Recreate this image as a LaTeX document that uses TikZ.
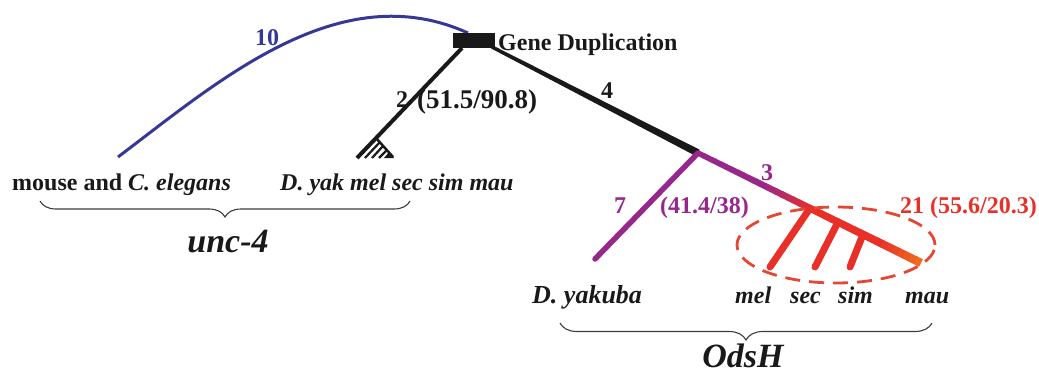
\documentclass[tikz,border=0pt]{standalone}
\usepackage{fontspec}
\setmainfont{Liberation Serif}
\usetikzlibrary{calc,decorations.pathreplacing}
\definecolor{blu}{RGB}{55,55,150}
\definecolor{purp}{RGB}{150,40,140}
\definecolor{redd}{RGB}{232,48,40}
\definecolor{orng}{RGB}{240,115,30}
\definecolor{ellred}{RGB}{228,72,50}
\definecolor{ink}{RGB}{25,25,25}
\begin{document}
\begin{tikzpicture}[x=1pt,y=-1pt,
  lbl/.style={inner sep=0pt, font=\fontsize{24}{28}\selectfont\bfseries, text=ink},
  big/.style={inner sep=0pt, font=\fontsize{34}{40}\selectfont\bfseries\itshape, text=ink},
  brc/.style={decorate, decoration={brace,mirror,amplitude=#1}, draw=ink!85, line width=1.1pt},
  ]
\useasboundingbox (0,0) rectangle (1039,375);
% named points
\coordinate (cel) at (118,157);
\coordinate (dupT) at (468,33);
\coordinate (dupL) at (462,48);
\coordinate (dupR) at (492,47);
\coordinate (yak) at (357,158);
\coordinate (J) at (698,153);
\coordinate (E) at (921,263);
\coordinate (yb) at (595,259);
% blue branch
\draw[blu, line width=3pt] (cel) .. controls (220,80) and (340,-25) .. (dupT);
% black branch to D. yak etc
\draw[ink, line width=4pt] (dupL) -- (yak);
\coordinate (cT) at (376,138);
\coordinate (cR) at (393,157);
\draw[ink, line width=2.5pt] (cT) -- (cR);
\draw[ink, line width=2.2pt] (365,158) -- (380,142) (372,158) -- (383,146) (379,158) -- (387,150);
\fill[ink] (384,158) -- (389,152) -- (394,158) -- cycle;
% tapered black branch
\fill[ink] ($(dupR)!1.7pt!90:(J)$) -- ($(dupR)!1.7pt!-90:(J)$) -- ($(J)!3.7pt!90:(dupR)$) -- ($(J)!3.7pt!-90:(dupR)$) -- cycle;
% purple to yakuba
\draw[purp, line width=5.5pt, line cap=round] (J) -- (yb);
% red branches
\coordinate (b1) at ($(J)!0.502!(E)$);
\coordinate (b2) at ($(J)!0.628!(E)$);
\coordinate (b3) at ($(J)!0.74!(E)$);
\coordinate (e1) at (770,267);
\coordinate (e2) at (815,267);
\coordinate (e3) at (850,267);
\draw[redd, line width=7pt, line cap=round] (b1) -- (e1) (b2) -- (e2) (b3) -- (e3);
% graded main branch
\foreach \i in {0,...,39}{
  \pgfmathsetmacro\ta{\i/40}
  \pgfmathsetmacro\tb{min(1,(\i+1.1)/40)}
  \pgfmathsetmacro\w{5.5+3*\ta}
  \pgfmathtruncatemacro\pa{100-min(100,max(0,(\ta-0.28)/0.22*100))}
  \pgfmathtruncatemacro\pb{100-min(100,max(0,(\ta-0.8)/0.2*100))}
  \draw[draw={purp!\pa!redd!\pb!orng}, line width=\w pt] ($(J)!\ta!(E)$) -- ($(J)!\tb!(E)$);
}
% duplication box
\node[fill=ink, minimum width=42pt, minimum height=15pt, inner sep=0pt] (dup) at (474,40.5) {};
% dashed ellipse
\draw[ellred, line width=2.8pt, dash pattern=on 15pt off 9pt] (836,245) ellipse [x radius=99pt, y radius=38pt];
% braces
\draw[brc=16pt] (40,201) -- (410,201);
\draw[brc=17pt] (560,323) -- (932,323);
% labels
\node[lbl, anchor=base west] (gd) at (498,50) {Gene Duplication};
\node[lbl, anchor=base, text=blu] (l10) at (267,45) {10};
\node[lbl, anchor=base] (l2) at (402,107) {2};
\node[lbl, anchor=base west, font=\fontsize{27}{30}\selectfont\bfseries] (l515) at (417,108) {(51.5/90.8)};
\node[lbl, anchor=base] (l4) at (607,98) {4};
\node[lbl, anchor=base, text=purp] (l3) at (767,180) {3};
\node[lbl, anchor=base, text=purp] (l7) at (620,213) {7};
\node[lbl, anchor=base west, text=purp] (l414) at (660,213) {(41.4/38)};
\node[lbl, anchor=base west, text=redd] (l21) at (900,213) {21 (55.6/20.3)};
\node[lbl, anchor=base west] (mouse) at (12,190) {mouse and \textit{C. elegans}};
\node[lbl, anchor=base west] (dyak) at (280,190) {\textit{D. yak mel sec sim mau}};
\node[big, anchor=base] (unc) at (228,252) {unc-4};
\node[lbl, anchor=base west, font=\fontsize{26}{30}\selectfont\bfseries] (yakuba) at (532,303) {\textit{D. yakuba}};
\node[lbl, anchor=base west] (mel) at (735,303) {\textit{mel}};
\node[lbl, anchor=base west] (sec) at (790,303) {\textit{sec}};
\node[lbl, anchor=base west] (sim) at (838,303) {\textit{sim}};
\node[lbl, anchor=base west] (mau) at (905,303) {\textit{mau}};
\node[big, anchor=base] (odsh) at (743,367) {OdsH};
\end{tikzpicture}
\end{document}
